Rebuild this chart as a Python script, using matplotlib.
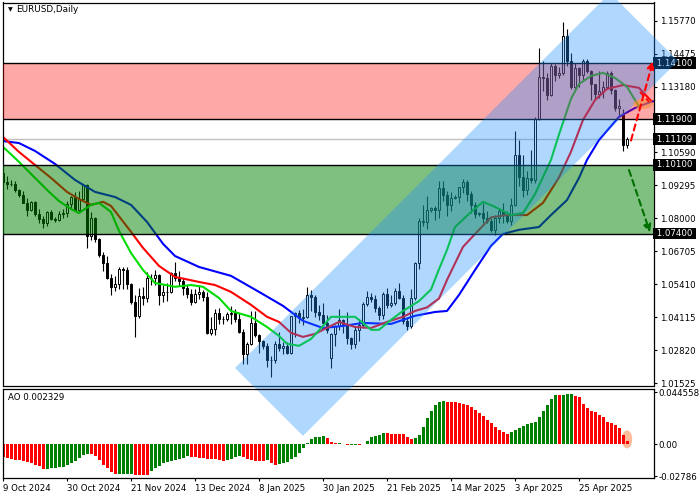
import numpy as np
import matplotlib.pyplot as plt
from matplotlib.patches import Polygon, Ellipse, FancyArrowPatch

plt.rcParams['font.family'] = ['DejaVu Sans']

chart_title = 'EURUSD,Daily'

# daily candles, bar 0 = 9 Oct 2024 ... bar 156 = 13 May 2025
open_ = [1.0978, 1.0942, 1.0936, 1.0937, 1.0911, 1.0892, 1.0862, 1.0833, 1.0866, 1.0817,
         1.0797, 1.0782, 1.0826, 1.0797, 1.0792, 1.0816, 1.0822, 1.0856, 1.0884, 1.0834,
         1.0878, 1.0930, 1.0730, 1.0800, 1.0719, 1.0655, 1.0623, 1.0565, 1.0529, 1.0542,
         1.0599, 1.0597, 1.0543, 1.0472, 1.0416, 1.0496, 1.0488, 1.0567, 1.0565, 1.0577,
         1.0497, 1.0510, 1.0512, 1.0585, 1.0566, 1.0554, 1.0528, 1.0502, 1.0470, 1.0502,
         1.0512, 1.0490, 1.0351, 1.0364, 1.0429, 1.0405, 1.0403, 1.0424, 1.0428, 1.0404,
         1.0353, 1.0265, 1.0307, 1.0390, 1.0341, 1.0319, 1.0298, 1.0243, 1.0245, 1.0308,
         1.0290, 1.0299, 1.0272, 1.0417, 1.0428, 1.0408, 1.0414, 1.0497, 1.0492, 1.0431,
         1.0420, 1.0390, 1.0250, 1.0344, 1.0378, 1.0402, 1.0382, 1.0330, 1.0306, 1.0362,
         1.0380, 1.0465, 1.0490, 1.0482, 1.0446, 1.0420, 1.0504, 1.0459, 1.0467, 1.0513,
         1.0486, 1.0397, 1.0377, 1.0486, 1.0623, 1.0789, 1.0784, 1.0833, 1.0840, 1.0833,
         1.0918, 1.0890, 1.0852, 1.0880, 1.0885, 1.0922, 1.0944, 1.0897, 1.0852, 1.0816,
         1.0820, 1.0802, 1.0791, 1.0755, 1.0800, 1.0830, 1.0815, 1.0790, 1.0852, 1.1048,
         1.0962, 1.0910, 1.0958, 1.0952, 1.1190, 1.1357, 1.1350, 1.1285, 1.1398, 1.1365,
         1.1370, 1.1515, 1.1420, 1.1315, 1.1390, 1.1365, 1.1420, 1.1380, 1.1328, 1.1290,
         1.1299, 1.1316, 1.1370, 1.1303, 1.1234, 1.1205, 1.1088]
high = [1.0990, 1.0968, 1.0952, 1.0945, 1.0914, 1.0906, 1.0880, 1.0870, 1.0870, 1.0836,
        1.0811, 1.0830, 1.0834, 1.0805, 1.0830, 1.0835, 1.0870, 1.0888, 1.0905, 1.0906,
        1.0937, 1.0937, 1.0826, 1.0805, 1.0724, 1.0668, 1.0653, 1.0582, 1.0572, 1.0609,
        1.0609, 1.0610, 1.0545, 1.0497, 1.0528, 1.0530, 1.0588, 1.0580, 1.0597, 1.0580,
        1.0540, 1.0545, 1.0590, 1.0630, 1.0594, 1.0566, 1.0540, 1.0522, 1.0524, 1.0535,
        1.0520, 1.0512, 1.0414, 1.0444, 1.0446, 1.0415, 1.0430, 1.0456, 1.0443, 1.0427,
        1.0367, 1.0313, 1.0437, 1.0436, 1.0345, 1.0320, 1.0312, 1.0260, 1.0318, 1.0354,
        1.0313, 1.0313, 1.0418, 1.0432, 1.0440, 1.0442, 1.0532, 1.0520, 1.0497, 1.0459,
        1.0467, 1.0420, 1.0349, 1.0381, 1.0442, 1.0405, 1.0432, 1.0332, 1.0373, 1.0402,
        1.0470, 1.0513, 1.0505, 1.0497, 1.0454, 1.0510, 1.0528, 1.0500, 1.0528, 1.0545,
        1.0499, 1.0410, 1.0523, 1.0630, 1.0800, 1.0854, 1.0889, 1.0845, 1.0850, 1.0946,
        1.0947, 1.0906, 1.0905, 1.0890, 1.0925, 1.0955, 1.0950, 1.0907, 1.0865, 1.0825,
        1.0860, 1.0830, 1.0800, 1.0812, 1.0840, 1.0860, 1.0830, 1.0880, 1.1145, 1.1107,
        1.1050, 1.0986, 1.1070, 1.1200, 1.1470, 1.1420, 1.1370, 1.1410, 1.1405, 1.1395,
        1.1573, 1.1545, 1.1450, 1.1412, 1.1393, 1.1425, 1.1425, 1.1383, 1.1330, 1.1380,
        1.1340, 1.1380, 1.1380, 1.1310, 1.1270, 1.1228, 1.1120]
low = [1.0935, 1.0916, 1.0929, 1.0905, 1.0882, 1.0860, 1.0811, 1.0829, 1.0810, 1.0780,
       1.0761, 1.0770, 1.0793, 1.0785, 1.0788, 1.0800, 1.0805, 1.0842, 1.0833, 1.0830,
       1.0870, 1.0683, 1.0716, 1.0709, 1.0650, 1.0595, 1.0561, 1.0497, 1.0513, 1.0523,
       1.0521, 1.0524, 1.0463, 1.0333, 1.0410, 1.0460, 1.0472, 1.0537, 1.0540, 1.0460,
       1.0470, 1.0474, 1.0505, 1.0555, 1.0535, 1.0500, 1.0485, 1.0460, 1.0467, 1.0483,
       1.0475, 1.0344, 1.0342, 1.0343, 1.0384, 1.0386, 1.0395, 1.0386, 1.0391, 1.0348,
       1.0226, 1.0227, 1.0301, 1.0335, 1.0272, 1.0286, 1.0215, 1.0178, 1.0233, 1.0279,
       1.0266, 1.0266, 1.0266, 1.0335, 1.0387, 1.0380, 1.0410, 1.0437, 1.0411, 1.0401,
       1.0381, 1.0351, 1.0212, 1.0299, 1.0361, 1.0350, 1.0305, 1.0285, 1.0289, 1.0317,
       1.0370, 1.0455, 1.0472, 1.0431, 1.0400, 1.0404, 1.0449, 1.0450, 1.0458, 1.0482,
       1.0386, 1.0360, 1.0370, 1.0480, 1.0600, 1.0770, 1.0760, 1.0825, 1.0795, 1.0800,
       1.0870, 1.0810, 1.0830, 1.0875, 1.0860, 1.0900, 1.0870, 1.0820, 1.0800, 1.0810,
       1.0780, 1.0780, 1.0745, 1.0733, 1.0780, 1.0780, 1.0780, 1.0775, 1.0850, 1.0928,
       1.0882, 1.0890, 1.0940, 1.0940, 1.1185, 1.1300, 1.1265, 1.1280, 1.1338, 1.1350,
       1.1365, 1.1400, 1.1310, 1.1305, 1.1315, 1.1340, 1.1370, 1.1265, 1.1265, 1.1272,
       1.1275, 1.1307, 1.1290, 1.1223, 1.1200, 1.1064, 1.1075]
close = [1.0942, 1.0936, 1.0937, 1.0911, 1.0892, 1.0862, 1.0833, 1.0866, 1.0817, 1.0797,
         1.0782, 1.0826, 1.0797, 1.0792, 1.0816, 1.0822, 1.0856, 1.0884, 1.0834, 1.0878,
         1.0930, 1.0730, 1.0800, 1.0719, 1.0655, 1.0623, 1.0565, 1.0529, 1.0542, 1.0599,
         1.0597, 1.0543, 1.0472, 1.0416, 1.0496, 1.0488, 1.0567, 1.0565, 1.0577, 1.0497,
         1.0510, 1.0512, 1.0585, 1.0566, 1.0554, 1.0528, 1.0502, 1.0470, 1.0502, 1.0512,
         1.0490, 1.0351, 1.0364, 1.0429, 1.0405, 1.0403, 1.0424, 1.0428, 1.0404, 1.0353,
         1.0265, 1.0307, 1.0390, 1.0341, 1.0319, 1.0298, 1.0243, 1.0245, 1.0308, 1.0290,
         1.0299, 1.0272, 1.0417, 1.0428, 1.0408, 1.0414, 1.0497, 1.0492, 1.0431, 1.0420,
         1.0390, 1.0362, 1.0344, 1.0378, 1.0402, 1.0382, 1.0330, 1.0306, 1.0362, 1.0380,
         1.0465, 1.0490, 1.0482, 1.0446, 1.0420, 1.0504, 1.0459, 1.0467, 1.0513, 1.0486,
         1.0397, 1.0377, 1.0486, 1.0623, 1.0789, 1.0784, 1.0833, 1.0840, 1.0833, 1.0918,
         1.0890, 1.0852, 1.0880, 1.0885, 1.0922, 1.0944, 1.0897, 1.0852, 1.0816, 1.0820,
         1.0802, 1.0791, 1.0755, 1.0800, 1.0830, 1.0815, 1.0790, 1.0852, 1.1048, 1.0962,
         1.0910, 1.0958, 1.0952, 1.1190, 1.1357, 1.1350, 1.1285, 1.1398, 1.1365, 1.1370,
         1.1515, 1.1420, 1.1315, 1.1390, 1.1365, 1.1420, 1.1380, 1.1328, 1.1290, 1.1299,
         1.1316, 1.1370, 1.1303, 1.1234, 1.1240, 1.1088, 1.1111]

# Awesome Oscillator, one value per bar
ao_values = [-0.01152, -0.01238, -0.01325, -0.01382, -0.01411, -0.01469, -0.01555, -0.01670, -0.01786, -0.01901,
             -0.02131, -0.02117, -0.02102, -0.02088, -0.02016, -0.01958, -0.01843, -0.01670, -0.01469, -0.01238,
             -0.00979, -0.00835, -0.00864, -0.01037, -0.01382, -0.01814, -0.02102, -0.02390, -0.02621, -0.02606,
             -0.02592, -0.02586, -0.02578, -0.02650, -0.02678, -0.02693, -0.02701, -0.02362, -0.02102, -0.01872,
             -0.01670, -0.01555, -0.01469, -0.01382, -0.01296, -0.01181, -0.01066, -0.01094, -0.01152, -0.01181,
             -0.01210, -0.01267, -0.01296, -0.01325, -0.01382, -0.01440, -0.01382, -0.01267, -0.01152, -0.01037,
             -0.01152, -0.01325, -0.01411, -0.01440, -0.01454, -0.01469, -0.01411, -0.01670, -0.01814, -0.01757,
             -0.01670, -0.01526, -0.01325, -0.01094, -0.00749, -0.00374, 0.00115, 0.00403, 0.00576, 0.00634,
             0.00691, 0.00490, 0.00202, 0.00058, 0.00086, -0.00029, -0.00115, -0.00058, -0.00043, -0.00086,
             -0.00014, 0.00259, 0.00576, 0.00691, 0.00806, 0.00979, 0.00922, 0.00893, 0.00878, 0.00864,
             0.00850, 0.00576, 0.00403, 0.00547, 0.00749, 0.01498, 0.02218, 0.02880, 0.03370, 0.03600,
             0.03686, 0.03658, 0.03629, 0.03600, 0.03542, 0.03456, 0.03341, 0.03168, 0.02938, 0.02707,
             0.02419, 0.02074, 0.01786, 0.01498, 0.01210, 0.01008, 0.00893, 0.01066, 0.01210, 0.01411,
             0.01584, 0.01728, 0.01814, 0.01930, 0.02362, 0.02851, 0.03370, 0.03859, 0.04234, 0.04205,
             0.04262, 0.04291, 0.04320, 0.04176, 0.04032, 0.03456, 0.03082, 0.02880, 0.02736, 0.02506,
             0.02362, 0.01930, 0.01786, 0.01642, 0.01354, 0.00778, 0.002329]
ao_title = 'AO 0.002329'

# Alligator lines (bar, price)
jaw_bar = [0, 4, 8, 13, 18, 23, 28, 32, 36, 40, 43, 49, 57, 64, 70, 75, 80, 85, 90, 97,
           103, 108, 111, 114, 118, 122, 125, 129, 134, 137, 141, 144, 146, 149, 154, 158, 162, 164]
jaw_price = [1.1104, 1.1096, 1.1065, 1.1014, 1.0951, 1.0904, 1.0884, 1.0853, 1.0786, 1.0700,
             1.0652, 1.0609, 1.0574, 1.0511, 1.0456, 1.0397, 1.0369, 1.0377, 1.0389, 1.0385,
             1.0417, 1.0432, 1.0436, 1.0499, 1.0597, 1.0692, 1.0739, 1.0755, 1.0766, 1.0813,
             1.0872, 1.0959, 1.1030, 1.1108, 1.1199, 1.1234, 1.1258, 1.1265]
teeth_bar = [0, 4, 8, 12, 16, 19, 22, 25, 27, 32, 35, 39, 43, 49, 53, 57, 62, 66, 69, 72,
             75, 78, 80, 84, 88, 92, 96, 100, 103, 106, 109, 111, 115, 119, 122, 126, 131, 135,
             139, 142, 145, 148, 151, 155, 159, 162]
teeth_price = [1.1120, 1.1061, 1.1010, 1.0959, 1.0904, 1.0876, 1.0853, 1.0865, 1.0849, 1.0747,
               1.0684, 1.0613, 1.0570, 1.0550, 1.0538, 1.0511, 1.0460, 1.0413, 1.0393, 1.0350,
               1.0334, 1.0346, 1.0362, 1.0393, 1.0373, 1.0369, 1.0393, 1.0413, 1.0436, 1.0450,
               1.0485, 1.0558, 1.0688, 1.0755, 1.0804, 1.0813, 1.0813, 1.0861, 1.0961, 1.1062,
               1.1187, 1.1265, 1.1309, 1.1324, 1.1313, 1.1262]
lips_bar = [0, 4, 8, 11, 14, 17, 19, 22, 24, 27, 29, 32, 35, 38, 43, 47, 50, 54, 57, 62,
            66, 69, 71, 74, 77, 80, 82, 88, 90, 92, 94, 97, 100, 104, 107, 109, 111, 113,
            117, 120, 123, 127, 130, 133, 137, 139, 142, 144, 147, 150, 153, 156, 158, 159]
lips_price = [1.1081, 1.1022, 1.0959, 1.0912, 1.0868, 1.0837, 1.0821, 1.0853, 1.0861, 1.0825,
              1.0751, 1.0664, 1.0597, 1.0546, 1.0531, 1.0538, 1.0531, 1.0487, 1.0436, 1.0413,
              1.0373, 1.0338, 1.0307, 1.0299, 1.0326, 1.0377, 1.0413, 1.0413, 1.0389, 1.0362,
              1.0362, 1.0401, 1.0436, 1.0475, 1.0520, 1.0600, 1.0676, 1.0766, 1.0825, 1.0865,
              1.0845, 1.0813, 1.0821, 1.0895, 1.1030, 1.1130, 1.1270, 1.1328, 1.1360, 1.1372,
              1.1352, 1.1317, 1.1265, 1.1242]

date_ticks = [0, 16, 32, 48, 64, 80, 96, 112, 128, 144]
date_labels = ['9 Oct 2024', '30 Oct 2024', '21 Nov 2024', '13 Dec 2024', '8 Jan 2025',
               '30 Jan 2025', '21 Feb 2025', '14 Mar 2025', '3 Apr 2025', '25 Apr 2025']
price_ticks = [1.15770, 1.14475, 1.13180, 1.10590, 1.09295, 1.08000, 1.06705,
               1.05410, 1.04115, 1.02820, 1.01525]
ao_ticks = [0.044558, 0.0, -0.02786]
ao_tick_labels = ['0.044558', '0.00', '-0.02786']

resistance_zone = (1.11900, 1.14100)
support_zone = (1.07400, 1.10100)
last_price = 1.11109
marked_levels = [1.14100, 1.11900, 1.11109, 1.10100, 1.07400]

# rising channel corners (bar, price)
channel_bar = [58.0, 75.0, 168.75, 151.75]
channel_price = [1.0212, 0.9945, 1.1419, 1.1686]

# forecast arrows and highlight marks
up_arrow = [(157.0, 1.1106), (162.5, 1.1418)]
up_dash = [(159.25, 1.1297), (161.5, 1.1258)]
down_arrow = [(156.5, 1.0990), (161.75, 1.0745)]
cross_mark = (160.0, 1.1250)
ao_mark = (156.0, 0.0040)

W, H = 700, 500
fig = plt.figure(figsize=(7, 5), dpi=100)
ax = fig.add_axes([2.5 / W, 1 - 385.5 / H, 651.5 / W, 383 / H])
ax_ao = fig.add_axes([2.5 / W, 1 - 477.5 / H, 651.5 / W, 89 / H])

o = np.array(open_)
h = np.array(high)
l = np.array(low)
c = np.array(close)
bars = np.arange(len(c))
up = c >= o
body_lo = np.minimum(o, c)
body_h = np.maximum(np.abs(c - o), 0.00008)

# candles
ax.vlines(bars, l, h, color='black', lw=0.8, zorder=2)
ax.bar(bars[up], body_h[up], bottom=body_lo[up], width=0.7, facecolor='white',
       edgecolor='black', lw=0.7, zorder=2.1)
ax.bar(bars[~up], body_h[~up], bottom=body_lo[~up], width=0.7, facecolor='black',
       edgecolor='black', lw=0.7, zorder=2.1)

# alligator
ax.plot(jaw_bar, jaw_price, color='#0000FF', lw=1.5, zorder=2.3)
ax.plot(teeth_bar, teeth_price, color='#FF0000', lw=1.5, zorder=2.4)
ax.plot(lips_bar, lips_price, color='#00DD00', lw=1.5, zorder=2.5)

ax.axhline(last_price, color='#C0C0C0', lw=1, zorder=1.5)

# zones drawn over the price with transparency
ax.axhspan(*resistance_zone, facecolor='#FF0000', alpha=0.34, lw=0, zorder=3)
ax.axhspan(*support_zone, facecolor='#008000', alpha=0.5, lw=0, zorder=3)
for lvl in resistance_zone + support_zone:
    ax.axhline(lvl, color='black', lw=1, zorder=3.1)

for lvl in marked_levels:
    ax.text(1.0, lvl, f' {lvl:.5f} ', transform=ax.get_yaxis_transform(), ha='left',
            va='center', color='white', fontsize=6.2, zorder=3.5, clip_on=False,
            bbox=dict(boxstyle='square,pad=0.15', fc='black', ec='none'))

ax.add_patch(Polygon(np.column_stack([channel_bar, channel_price]), closed=True,
                     facecolor='#1E90FF', alpha=0.35, lw=0, zorder=4, clip_on=False))

ax.add_patch(Ellipse(cross_mark, width=5, height=0.0040, facecolor='#FF8C32',
                     alpha=0.55, lw=0, zorder=6))
ax.plot(*zip(*up_dash), color='red', lw=1.3, ls=(0, (3, 2)), zorder=6)
ax.add_patch(FancyArrowPatch(up_arrow[0], up_arrow[1], arrowstyle='-|>', mutation_scale=11,
                             color='red', lw=1.5, ls=(0, (3, 2)), shrinkA=0, shrinkB=0, zorder=6))
ax.add_patch(FancyArrowPatch(down_arrow[0], down_arrow[1], arrowstyle='-|>', mutation_scale=11,
                             color='#007000', lw=1.5, ls=(0, (3, 2)), shrinkA=0, shrinkB=0, zorder=6))

ax.set_xlim(-0.125, 162.75)
ax.set_ylim(1.0143, 1.16485)
ax.yaxis.tick_right()
ax.set_yticks(price_ticks)
ax.set_yticklabels([f'{t:.5f}' for t in price_ticks])
ax.tick_params(axis='y', direction='out', length=2.5, width=0.8, pad=2, labelsize=6.2)
ax.set_xticks([])
for s in ax.spines.values():
    s.set_linewidth(0.9)

# AO panel
ao = np.array(ao_values)
rising = np.concatenate([[False], ao[1:] > ao[:-1]])
ax_ao.set_facecolor('none')
ax_ao.add_patch(Ellipse(ao_mark, width=2.6, height=0.0155, facecolor='#FFA070',
                        alpha=0.7, lw=0, zorder=1))
ax_ao.bar(bars, ao, width=0.75, color=np.where(rising, '#008000', '#FF0000'), zorder=2)
ax_ao.set_xlim(-0.125, 162.75)
ax_ao.set_ylim(-0.0289, 0.0479)
ax_ao.yaxis.tick_right()
ax_ao.set_yticks(ao_ticks)
ax_ao.set_yticklabels(ao_tick_labels)
ax_ao.tick_params(axis='y', direction='out', length=2.5, width=0.8, pad=1, labelsize=6.2)
ax_ao.set_xticks(date_ticks)
ax_ao.set_xticklabels(date_labels, ha='left')
ax_ao.tick_params(axis='x', direction='out', length=2.5, width=0.8, pad=2.5, labelsize=6.2)
for s in ax_ao.spines.values():
    s.set_linewidth(0.9)
ax_ao.text(0.008, 0.9, ao_title, transform=ax_ao.transAxes, fontsize=6.2, va='center')

fig.text(10 / W, 1 - 10 / H, '\u25bc', fontsize=4.5, ha='center', va='center')
fig.text(16 / W, 1 - 10 / H, chart_title, fontsize=6.4, va='center')

fig.savefig('out.png', dpi=100)
